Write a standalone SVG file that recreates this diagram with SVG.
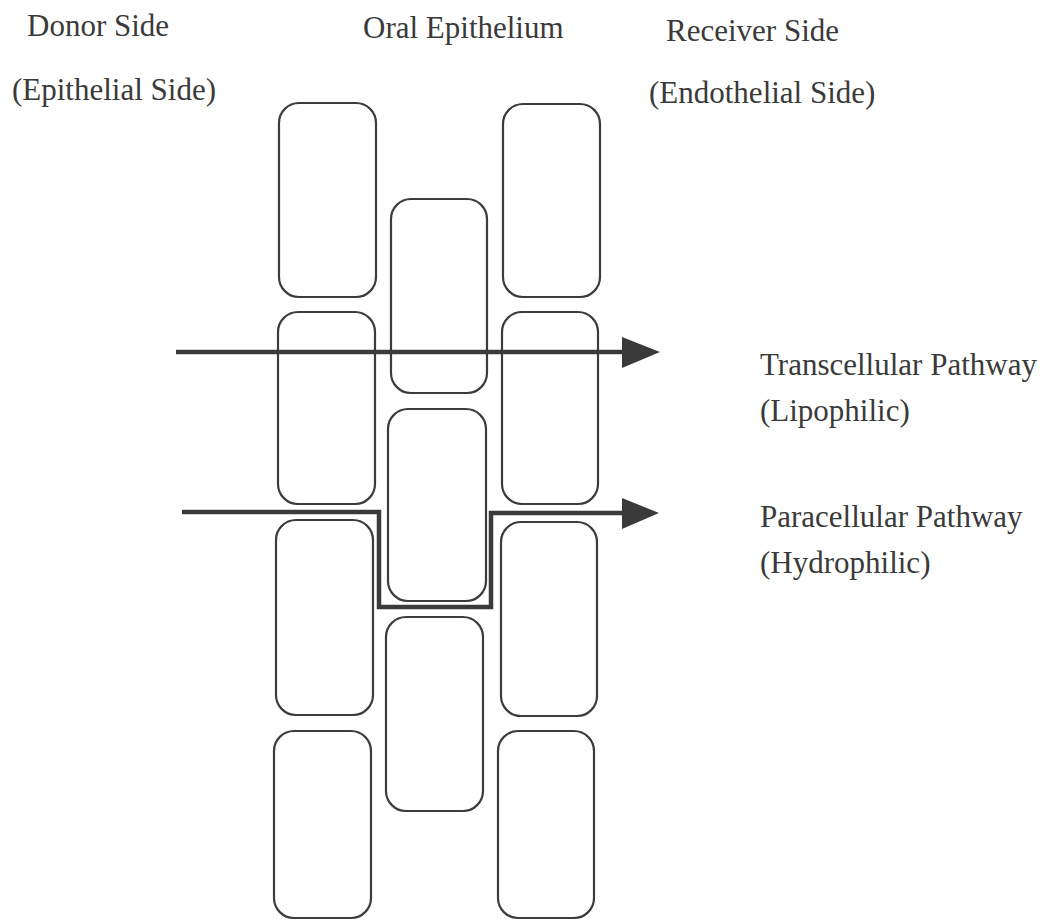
<svg xmlns="http://www.w3.org/2000/svg" width="1047" height="920" viewBox="0 0 1047 920">
<style>
.cell{fill:none;stroke:#3c3c3c;stroke-width:2.2}
.path{fill:none;stroke:#3a3a3a;stroke-width:4.5;stroke-linejoin:miter}
.head{fill:#3a3a3a}
text{font-family:"Liberation Serif","Times New Roman",serif;font-size:31px;fill:#3a3a3a}
</style>
<rect width="1047" height="920" fill="#ffffff"/>
<g id="labels">
<text id="donor" x="27" y="36">Donor Side</text>
<text id="donor2" x="12" y="100">(Epithelial Side)</text>
<text id="oral" x="363" y="38">Oral Epithelium</text>
<text id="receiver" x="666" y="41">Receiver Side</text>
<text id="receiver2" x="649" y="103">(Endothelial Side)</text>
<text id="trans" x="760" y="375">Transcellular Pathway</text>
<text id="trans2" x="760" y="421">(Lipophilic)</text>
<text id="para" x="760" y="527">Paracellular Pathway</text>
<text id="para2" x="760" y="573">(Hydrophilic)</text>
</g>
<g id="cell-L1"><rect class="cell" x="279" y="103" width="97" height="194" rx="20"/></g>
<g id="cell-L2"><rect class="cell" x="278" y="312" width="97" height="192" rx="20"/></g>
<g id="cell-L3"><rect class="cell" x="276" y="520" width="97" height="195" rx="20"/></g>
<g id="cell-L4"><rect class="cell" x="274" y="731" width="97" height="187" rx="20"/></g>
<g id="cell-M1"><rect class="cell" x="391" y="199" width="96" height="194" rx="20"/></g>
<g id="cell-M2"><rect class="cell" x="388" y="409" width="98" height="192" rx="20"/></g>
<g id="cell-M3"><rect class="cell" x="386" y="617" width="97" height="194" rx="20"/></g>
<g id="cell-R1"><rect class="cell" x="503" y="104" width="97" height="193" rx="20"/></g>
<g id="cell-R2"><rect class="cell" x="502" y="312" width="96" height="192" rx="20"/></g>
<g id="cell-R3"><rect class="cell" x="501" y="522" width="96" height="194" rx="20"/></g>
<g id="cell-R4"><rect class="cell" x="498" y="731" width="96" height="187" rx="20"/></g>
<g id="connectors">
<path id="transcellular" class="path" d="M176,352 L626,352"/>
<polygon class="head" points="622,337 660,352 622,368"/>
<path id="paracellular" class="path" d="M182,512 L379,512 L379,607 L491,607 L491,513 L626,513"/>
<polygon class="head" points="622,498 659,513 622,529"/>
</g>
</svg>
